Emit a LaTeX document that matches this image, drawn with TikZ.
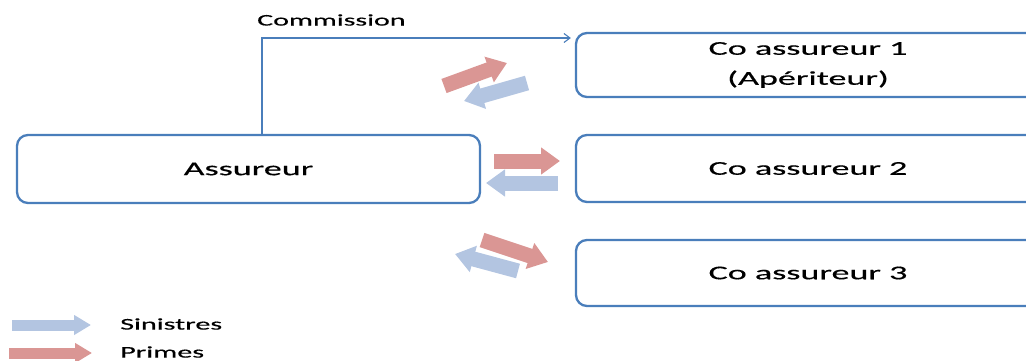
\documentclass[tikz,border=0pt]{standalone}
\usepackage{fontspec}
\setmainfont[FakeStretch=1.85,FakeBold=0.5]{Carlito}
\usetikzlibrary{arrows.meta}
\definecolor{boxblue}{HTML}{4A7EBB}
\definecolor{arrred}{HTML}{DA9694}
\definecolor{arrblue}{HTML}{B3C5E1}
\tikzset{
  cobox/.style={draw=boxblue, line width=2.3pt, rounded corners=11pt, fill=white,
    minimum width=464pt, minimum height=65pt, inner sep=0pt, align=center,
    font=\fontsize{19.5}{30}\selectfont},
  fatred/.style={draw=arrred, line width=15pt, -{Triangle[length=19pt,width=26pt]}},
  fatblue/.style={draw=arrblue, line width=15pt, -{Triangle[length=19pt,width=26pt]}},
  legred/.style={draw=arrred, line width=11pt, -{Triangle[length=17pt,width=19pt]}},
  legblue/.style={draw=arrblue, line width=11pt, -{Triangle[length=17pt,width=19pt]}},
  lbl/.style={inner sep=0pt, anchor=west, font=\fontsize{16.3}{18}\selectfont},
  commline/.style={draw=boxblue, line width=1.1pt, -{Straight Barb[length=6pt,width=9pt]}}
}
\begin{document}
\begin{tikzpicture}[x=1pt,y=-1pt]
\useasboundingbox (0,0) rectangle (1026,361);
\clip (0,0) rectangle (1026,361);
\node[cobox, minimum width=463pt, minimum height=68pt] (ass) at (248.5,169) {Assureur};
\node[cobox, minimum height=64pt] (co1) at (808,65) {Co assureur 1\\(Apériteur)};
\node[cobox, minimum height=67pt] (co2) at (808,168.5) {Co assureur 2};
\node[cobox, minimum height=66pt] (co3) at (808,273) {Co assureur 3};
\coordinate (cstart) at ([xshift=13.5pt]ass.north);
\draw[commline] (cstart) |- ([yshift=27pt,xshift=-4pt]co1.west);
\node[lbl, font=\fontsize{16.2}{18}\selectfont] (comm) at (257,20) {Commission};
% top pair
\draw[fatred] (444,86) -- (507,63);
\draw[fatblue] (527,83) -- (464,101);
% middle pair
\draw[fatred] (494,161) -- (560,161);
\draw[fatblue] (558,183) -- (486,183);
% bottom pair
\draw[fatred] (482,240) -- (548,262);
\draw[fatblue] (518,271) -- (455,254);
% legend
\draw[legblue] (12,325) -- (91,325);
\draw[legred] (9,353) -- (92,353);
\node[lbl] (sin) at (120,324) {Sinistres};
\node[lbl] (pri) at (120,352) {Primes};
\end{tikzpicture}
\end{document}
